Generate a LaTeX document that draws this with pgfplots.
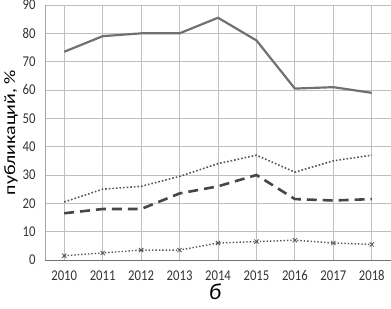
\documentclass[border=0pt]{standalone}
\usepackage{fontspec}
\setmainfont{Carlito}
\newfontfamily\tickfont[FakeStretch=0.85]{Carlito}
\newfontfamily\labfont[FakeStretch=1.25]{Carlito}
\usepackage{pgfplots}
\pgfplotsset{compat=1.18}
\definecolor{lsolid}{RGB}{112,112,112}
\definecolor{ldot}{RGB}{85,85,85}
\definecolor{ldash}{RGB}{70,70,70}
\definecolor{grid}{RGB}{165,165,165}
\begin{document}
\begin{tikzpicture}
\begin{axis}[
  name=ax,
  scale only axis,
  width=346bp, height=255bp,
  xmin=-0.5, xmax=8.5,
  ymin=0, ymax=90,
  xtick={0,...,8},
  xticklabels={2010,2011,2012,2013,2014,2015,2016,2017,2018},
  ytick={0,10,...,90},
  ymajorgrids,
  grid style={grid, line width=0.8pt},
  major tick length=0pt,
  axis line style={draw=none},
  /pgf/number format/assume math mode=true,
  tick label style={font=\tickfont\fontsize{15}{17}\selectfont, text=black!80},
  yticklabel style={xshift=-6bp},
  xticklabel style={yshift=-7bp},
  clip=false,
]
\draw[grid, line width=0.8pt] (axis cs:-0.5,0) -- (axis cs:-0.5,90);
\draw[black!55, line width=1pt] (axis cs:-0.5,0) -- (axis cs:8.5,0);
\addplot[lsolid, line width=2.2pt, mark=none] coordinates {
(0,73.5) (1,79) (2,80) (3,80) (4,85.5) (5,77.5) (6,60.5) (7,61) (8,59)};
\addplot[ldot, line width=1.6pt, dotted, mark=none] coordinates {
(0,20.5) (1,25) (2,26) (3,29.5) (4,34) (5,37) (6,31) (7,35) (8,37)};
\addplot[ldash, line width=2.6pt, dash pattern=on 10pt off 6pt, mark=none] coordinates {
(0,16.5) (1,18) (2,18) (3,23.5) (4,26) (5,30) (6,21.5) (7,21) (8,21.5)};
\addplot[ldot, line width=1.4pt, dotted, mark=x, mark size=3pt, mark options={solid, line width=0.8pt}] coordinates {
(0,1.5) (1,2.5) (2,3.5) (3,3.5) (4,6) (5,6.5) (6,7) (7,6) (8,5.5)};
\end{axis}
\node[rotate=90, anchor=center, font=\labfont\fontsize{16}{18}\selectfont, inner sep=0pt] at ([xshift=-34bp]ax.west) {публикаций, \%};
\node[anchor=center, font=\fontsize{23}{25}\selectfont\itshape, inner sep=0pt] at ([xshift=-3bp,yshift=-32bp]ax.south) {б};
\pgfresetboundingbox
\path[use as bounding box] ([xshift=-45bp,yshift=-48bp]ax.south west) rectangle ([yshift=5bp]ax.north east);
\end{tikzpicture}
\end{document}
